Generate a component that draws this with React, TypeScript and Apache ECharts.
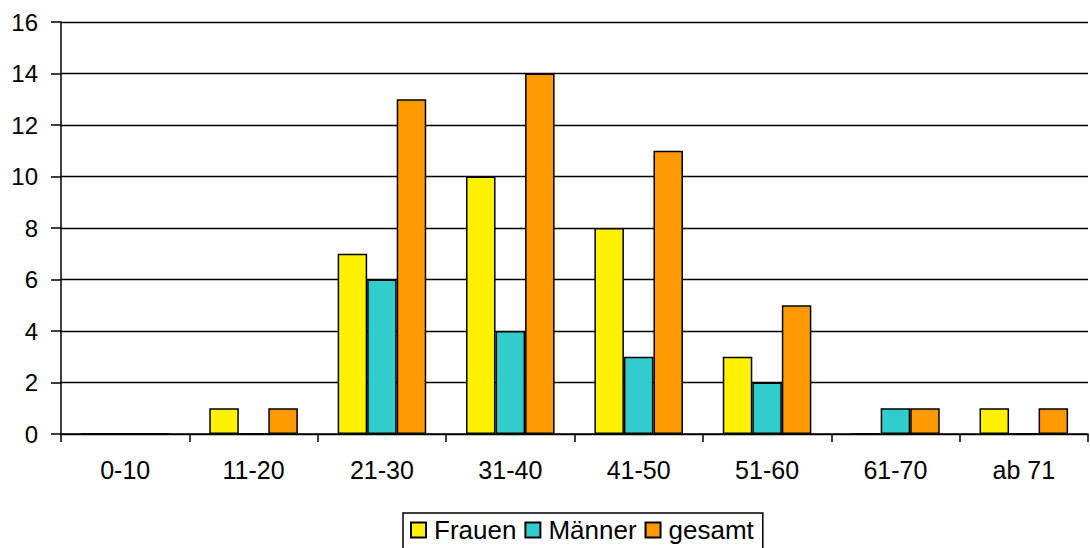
import React, { useEffect, useRef } from "react";
import * as echarts from "echarts";

const categories = ["0-10", "11-20", "21-30", "31-40", "41-50", "51-60", "61-70", "ab 71"];
const frauen = [0, 1, 7, 10, 8, 3, 0, 1];
const maenner = [0, 0, 6, 4, 3, 2, 1, 0];
const gesamt = [0, 1, 13, 14, 11, 5, 1, 1];
const seriesNames = ["Frauen", "Männer", "gesamt"];
const colors = ["#FFF200", "#33CCCC", "#FF9900"];

export default function App() {
  const ref = useRef<HTMLDivElement>(null);
  useEffect(() => {
    document.body.style.margin = "0";
    const chart = echarts.init(ref.current!, undefined, { renderer: "svg" });
    const dataSets = [frauen, maenner, gesamt];
    chart.setOption({
      animation: false,
      textStyle: { fontFamily: "Liberation Sans, Arial, sans-serif" },
      grid: { left: 61, right: 2, top: 22, bottom: 114, containLabel: false },
      legend: {
        data: seriesNames,
        left: 403,
        top: 513,
        icon: "rect",
        itemWidth: 15,
        itemHeight: 15,
        itemGap: 8,
        borderColor: "#000",
        borderWidth: 1.5,
        borderRadius: 0,
        padding: [4, 9, 12, 7],
        textStyle: { fontSize: 26, color: "#000", padding: [0, 0, 0, 3] },
      },
      xAxis: {
        type: "category",
        data: categories,
        axisLine: { lineStyle: { color: "#000", width: 1.5 } },
        axisTick: { show: true, length: 8, lineStyle: { color: "#000", width: 1.5 } },
        axisLabel: { fontSize: 25, color: "#000", margin: 23 },
      },
      yAxis: {
        type: "value",
        min: 0,
        max: 16,
        interval: 2,
        axisLine: { show: true, lineStyle: { color: "#000", width: 1.5 } },
        axisTick: { show: true, length: 10, lineStyle: { color: "#000", width: 1.5 } },
        axisLabel: { fontSize: 24, color: "#000", margin: 23 },
        splitLine: { show: true, lineStyle: { color: "#000", width: 1.3 } },
      },
      series: seriesNames.map((name, i) => ({
        name,
        type: "bar",
        data: dataSets[i],
        barGap: "0%",
        barCategoryGap: "31%",
        itemStyle: { color: colors[i], borderColor: "#000", borderWidth: 1.5 },
      })),
    });
    return () => chart.dispose();
  }, []);
  return <div ref={ref} style={{ width: 1090, height: 548 }} />;
}
